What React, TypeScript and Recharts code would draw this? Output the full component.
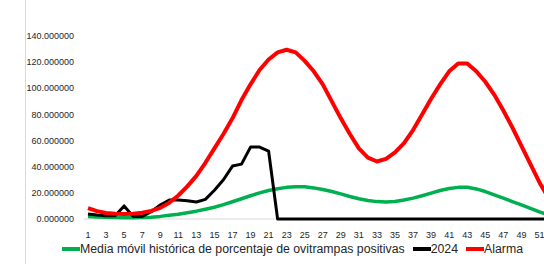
import React from 'react';
import { LineChart, Line, XAxis, YAxis, Legend } from 'recharts';

// Semanas epidemiológicas
const weeks = [
    1, 2, 3, 4, 5, 6, 7, 8, 9, 10, 11, 12, 13, 14, 15, 16, 17, 18, 19, 20, 21, 22, 23, 24, 25, 26,
    27, 28, 29, 30, 31, 32, 33, 34, 35, 36, 37, 38, 39, 40, 41, 42, 43, 44, 45, 46, 47, 48, 49, 50, 51, 52
];

// Media móvil histórica de porcentaje de ovitrampas positivas
const mediaMovil = [
    2.0, 1.6, 1.3, 1.1, 1.0, 1.0, 1.1, 1.4, 2.0, 2.8, 3.6, 4.8, 6.0, 7.5, 9.0, 11.0, 13.2, 15.5, 17.8, 20.0,
    21.8, 23.2, 24.2, 24.7, 24.6, 23.8, 22.6, 21.0, 19.2, 17.2, 15.5, 14.2, 13.3, 13.0, 13.4, 14.5, 16.0, 17.8,
    19.8, 21.8, 23.3, 24.2, 24.3, 23.0, 21.0, 18.5, 16.0, 13.3, 10.8, 8.2, 5.5, 3.0
];

// 2024
const serie2024 = [
    3.8, 3.0, 2.5, 2.5, 10.0, 2.0, 2.0, 5.6, 10.7, 14.5, 14.5, 14.0, 13.0, 15.0, 22.0, 30.0, 40.5, 42.0, 55.0, 55.0,
    52.0, 0, 0, 0, 0, 0, 0, 0, 0, 0, 0, 0, 0, 0, 0, 0, 0, 0, 0, 0, 0, 0, 0, 0, 0, 0, 0, 0, 0, 0, 0, 0
];

// Alarma
const alarma = [
    8.3, 6.0, 4.6, 4.0, 3.8, 4.0, 4.8, 6.2, 8.5, 12.5, 18.0, 25.0, 33.0, 43.0, 54.0, 65.0, 77.0, 91.0, 103.0, 114.0,
    122.0, 127.5, 129.5, 127.5, 121.0, 113.0, 103.0, 90.0, 77.0, 65.0, 54.0, 47.0, 44.0, 46.0, 51.0, 58.0, 68.0, 80.0,
    92.0, 103.0, 113.0, 119.0, 119.0, 113.0, 105.0, 95.0, 83.0, 70.0, 56.0, 42.0, 28.0, 16.0
];

const yTicks = [0, 20, 40, 60, 80, 100, 120, 140];

const chartData = weeks.map((week, i) => ({
    week,
    media: mediaMovil[i],
    y2024: serie2024[i],
    alarma: alarma[i]
}));

const legendItems = [
    { label: 'Media móvil histórica de porcentaje de ovitrampas positivas', color: '#00b050' },
    { label: '2024', color: '#000000' },
    { label: 'Alarma', color: '#ff0000' }
];

const FONT = '"Liberation Sans", Arial, sans-serif';
const TEXT = '#262626';

// Leyenda tipo Excel: muestra de línea pegada al texto
const ChartLegend = () => (
    <div style={{ display: 'flex', alignItems: 'center', fontFamily: FONT, fontSize: 12.3, lineHeight: '14px', color: TEXT, whiteSpace: 'nowrap' }}>
        {legendItems.map(item => (
            <div key={item.label} style={{ display: 'flex', alignItems: 'center', marginRight: 8 }}>
                <span style={{ display: 'inline-block', width: 18, height: 3.5, background: item.color }} />
                <span>{item.label}</span>
            </div>
        ))}
    </div>
);

export default function App() {
    return (
        <div style={{ position: 'absolute', left: 0, top: 0, width: 544, height: 264, overflow: 'hidden', background: '#fff' }}>
            {/* borde del área del gráfico */}
            <div style={{ position: 'absolute', left: 25, top: 0, width: 1, height: 264, background: '#d9d9d9' }} />
            <LineChart width={553} height={264} data={chartData} margin={{ top: 36, right: 0, bottom: 15, left: 0 }}>
                <XAxis
                    dataKey="week"
                    interval={1}
                    padding={{ left: 4.5, right: 4.5 }}
                    axisLine={{ stroke: '#d9d9d9' }}
                    tickLine={false}
                    tickMargin={7}
                    tick={{ fontSize: 9, fill: TEXT, fontFamily: FONT }}
                    zIndex={100}
                />
                <YAxis
                    width={83.5}
                    domain={[0, 140]}
                    ticks={yTicks}
                    tickFormatter={(v: number) => v.toFixed(6)}
                    axisLine={false}
                    tickLine={false}
                    tickMargin={3.5}
                    tick={{ fontSize: 9, fill: TEXT, fontFamily: FONT }}
                />
                <Line type="linear" dataKey="media" name="Media móvil histórica de porcentaje de ovitrampas positivas" stroke="#00b050" strokeWidth={3.5} dot={false} isAnimationActive={false} strokeLinejoin="round" zIndex={600} />
                <Line type="linear" dataKey="y2024" name="2024" stroke="#000000" strokeWidth={3} dot={false} isAnimationActive={false} strokeLinejoin="round" zIndex={610} />
                <Line type="linear" dataKey="alarma" name="Alarma" stroke="#ff0000" strokeWidth={4} dot={false} isAnimationActive={false} strokeLinejoin="round" zIndex={620} />
                <Legend
                    layout="horizontal"
                    verticalAlign="middle"
                    align="center"
                    content={() => <ChartLegend />}
                    wrapperStyle={{ left: 62, top: 242, bottom: 'auto', width: 'auto' }}
                />
            </LineChart>
        </div>
    );
}
